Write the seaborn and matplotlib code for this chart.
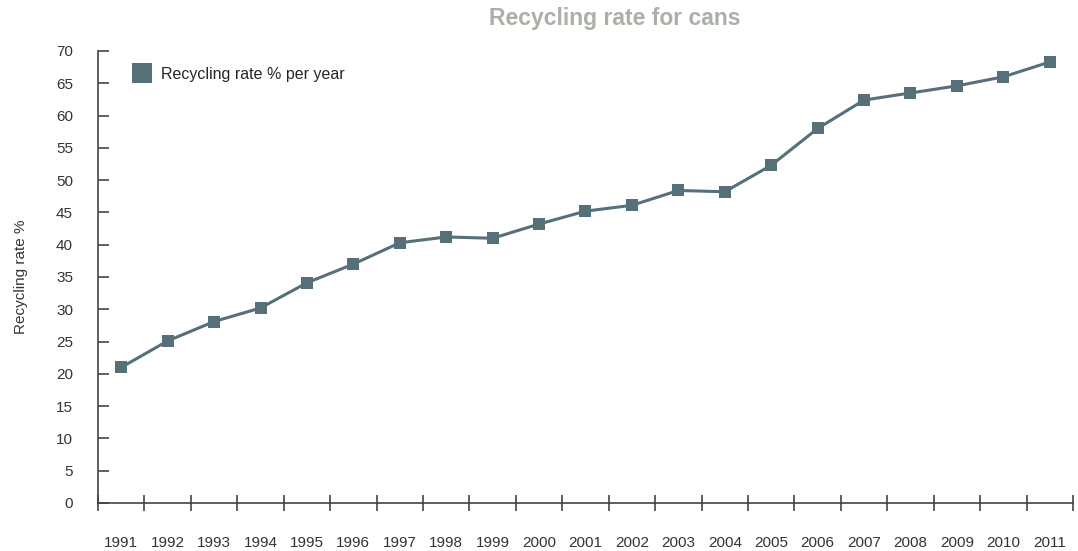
import numpy as np
import pandas as pd
import matplotlib
matplotlib.use('Agg')
import matplotlib.pyplot as plt
from matplotlib.lines import Line2D
import seaborn as sns

years = [str(y) for y in range(1991, 2012)]
rates = [21.0, 25.1, 28.1, 30.2, 34.1, 37.0, 40.3, 41.2, 41.0, 43.2, 45.2,
         46.1, 48.4, 48.2, 52.3, 58.0, 62.4, 63.5, 64.6, 66.0, 68.3]

line_col = '#56707a'
title_col = '#a9b1a6'
text_col = '#333333'

sns.set_style('white')
plt.rcParams['font.family'] = ['Liberation Sans', 'DejaVu Sans']

df = pd.DataFrame({'pos': np.arange(len(years)), 'rate': rates})

fig = plt.figure(figsize=(10.78, 5.51), dpi=100)
ax = fig.add_axes([98 / 1078, 1 - 503 / 551, (1073 - 98) / 1078, (503 - 51) / 551])

sns.lineplot(data=df, x='pos', y='rate', ax=ax, color=line_col, linewidth=2.2,
             marker='s', markersize=8, markeredgewidth=0)

ax.set_xlim(-0.5, len(years) - 0.5)
ax.set_ylim(0, 70)

# y axis: ticks pointing into the plot
ax.set_yticks(np.arange(0, 71, 5))
ax.tick_params(axis='y', left=True, direction='in', length=8, width=1.2,
               color='#444444', labelsize=11, labelcolor=text_col, pad=18)

# x axis: crossing ticks on category boundaries, labels in the middle
ax.set_xticks(np.arange(-0.5, len(years), 1))
ax.set_xticklabels([])
ax.tick_params(axis='x', which='major', bottom=True, direction='inout', length=11,
               width=1.2, color='#444444')
ax.set_xticks(np.arange(len(years)), minor=True)
ax.set_xticklabels(years, minor=True)
ax.tick_params(axis='x', which='minor', bottom=True, length=0, labelsize=11,
               labelcolor=text_col, pad=24)

for side in ['top', 'right']:
    ax.spines[side].set_visible(False)
for side in ['left', 'bottom']:
    ax.spines[side].set_color('#444444')
    ax.spines[side].set_linewidth(1.2)

ax.set_xlabel('')
ax.set_ylabel('Recycling rate %', fontsize=11, color=text_col, labelpad=20)
fig.text(615 / 1078, 1 - 18 / 551, 'Recycling rate for cans', ha='center', va='center',
         fontsize=16.5, fontweight='bold', color=title_col)

handle = Line2D([], [], linestyle='none', marker='s', markersize=14,
                color=line_col, markeredgewidth=0)
ax.legend([handle], ['Recycling rate % per year'], loc='upper left', frameon=False,
          fontsize=11.5, handletextpad=0.2, borderaxespad=0.6,
          bbox_to_anchor=(0.012, 1.0))

fig.savefig('out.png', dpi=100)
